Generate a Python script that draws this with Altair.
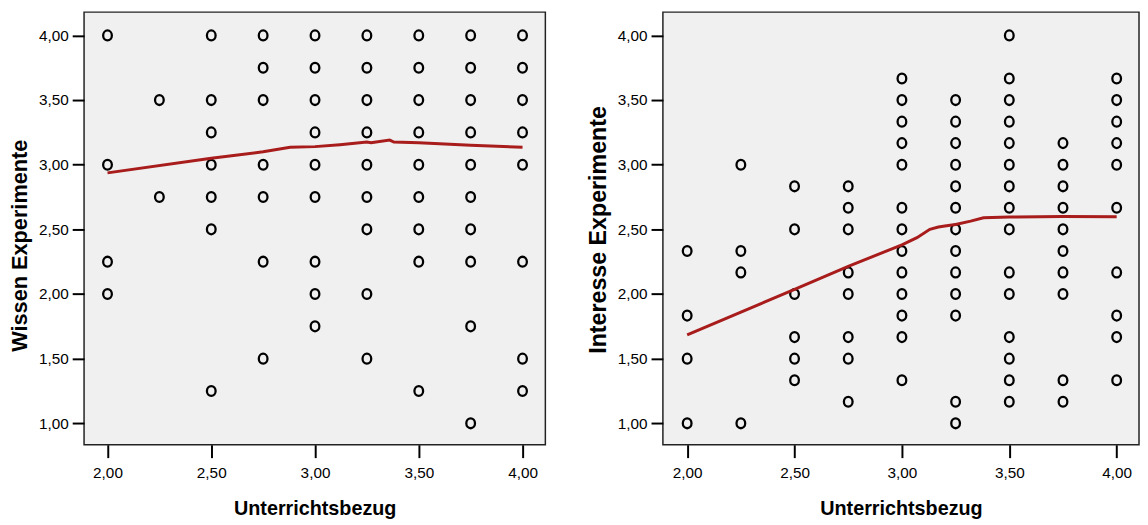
import altair as alt
import pandas as pd

# ---- Left panel: Wissen Experimente vs Unterrichtsbezug ----
wissen_x = (
    [2.00] * 4 + [2.25] * 2 + [2.50] * 7 + [2.75] * 7 + [3.00] * 9
    + [3.25] * 9 + [3.50] * 9 + [3.75] * 10 + [4.00] * 8
)
wissen_y = [
    4.00, 3.00, 2.25, 2.00,
    3.50, 2.75,
    4.00, 3.50, 3.25, 3.00, 2.75, 2.50, 1.25,
    4.00, 3.75, 3.50, 3.00, 2.75, 2.25, 1.50,
    4.00, 3.75, 3.50, 3.25, 3.00, 2.75, 2.25, 2.00, 1.75,
    4.00, 3.75, 3.50, 3.25, 3.00, 2.75, 2.50, 2.00, 1.50,
    4.00, 3.75, 3.50, 3.25, 3.00, 2.75, 2.50, 2.25, 1.25,
    4.00, 3.75, 3.50, 3.25, 3.00, 2.75, 2.50, 2.25, 1.75, 1.00,
    4.00, 3.75, 3.50, 3.25, 3.00, 2.25, 1.50, 1.25,
]
wissen_fit_x = [2.00, 2.50, 2.75, 2.88, 3.00, 3.12, 3.25, 3.27, 3.36, 3.38, 3.50, 3.75, 4.00]
wissen_fit_y = [2.937, 3.05, 3.10, 3.135, 3.14, 3.155, 3.175, 3.17, 3.19, 3.175, 3.17, 3.15, 3.135]

# ---- Right panel: Interesse Experimente vs Unterrichtsbezug ----
interesse_x = (
    [2.00] * 4 + [2.25] * 4 + [2.50] * 6 + [2.75] * 8 + [3.00] * 13
    + [3.25] * 13 + [3.50] * 15 + [3.75] * 10 + [4.00] * 10
)
interesse_y = [
    2.333, 1.833, 1.500, 1.000,
    3.000, 2.333, 2.167, 1.000,
    2.833, 2.500, 2.000, 1.667, 1.500, 1.333,
    2.833, 2.667, 2.500, 2.167, 2.000, 1.667, 1.500, 1.167,
    3.667, 3.500, 3.333, 3.167, 3.000, 2.667, 2.500, 2.333, 2.167, 2.000, 1.833, 1.667, 1.333,
    3.500, 3.333, 3.167, 3.000, 2.833, 2.667, 2.500, 2.333, 2.167, 2.000, 1.833, 1.167, 1.000,
    4.000, 3.667, 3.500, 3.333, 3.167, 3.000, 2.833, 2.667, 2.500, 2.167, 2.000, 1.667, 1.500, 1.333, 1.167,
    3.167, 3.000, 2.833, 2.667, 2.500, 2.333, 2.167, 2.000, 1.333, 1.167,
    3.667, 3.500, 3.333, 3.167, 3.000, 2.667, 2.167, 1.833, 1.667, 1.333,
]
interesse_fit_x = [2.00, 2.50, 2.75, 3.00, 3.07, 3.13, 3.17, 3.20, 3.25, 3.32, 3.38, 3.50, 3.75, 4.00]
interesse_fit_y = [1.684, 2.036, 2.214, 2.38, 2.436, 2.50, 2.518, 2.526, 2.538, 2.564, 2.59, 2.595, 2.60, 2.597]

x_ticks = [2.0, 2.5, 3.0, 3.5, 4.0]
y_ticks = [1.0, 1.5, 2.0, 2.5, 3.0, 3.5, 4.0]
x_title = "Unterrichtsbezug"

LABEL_EXPR = "replace(format(datum.value, '.2f'), '.', ',')"
LABEL_FONT = "Liberation Sans"
TITLE_FONT = "Liberation Sans"
ELLIPSE = "M -0.88 0 A 0.88 1 0 1 0 0.88 0 A 0.88 1 0 1 0 -0.88 0 Z"


def panel(xs, ys, fx, fy, y_title, width, x_domain, title_y, title_size, title_pad):
    pts = pd.DataFrame({"x": xs, "y": ys})
    fit = pd.DataFrame({"x": fx, "y": fy})
    xscale = alt.Scale(domain=x_domain, nice=False, zero=False)
    yscale = alt.Scale(domain=[0.834, 4.18], nice=False, zero=False)
    xaxis = alt.Axis(
        values=x_ticks, labelExpr=LABEL_EXPR, title=x_title, grid=False, domain=False,
        tickSize=13, tickWidth=2, tickColor="#000", labelPadding=8,
        labelFont=LABEL_FONT, labelFontSize=15.5, labelColor="#000",
        titleFont=TITLE_FONT, titleFontSize=20, titleFontWeight="bold", titleColor="#000",
        titlePadding=18,
    )
    yaxis = alt.Axis(
        values=y_ticks, labelExpr=LABEL_EXPR, title=y_title, grid=False, domain=False,
        tickSize=12, tickWidth=2, tickColor="#000", labelPadding=4,
        labelFont=LABEL_FONT, labelFontSize=15.5, labelColor="#000",
        titleFont=TITLE_FONT, titleFontSize=title_size, titleFontWeight="bold", titleColor="#000",
        titlePadding=title_pad, titleY=title_y,
    )
    points = alt.Chart(pts).mark_point(
        shape=ELLIPSE, size=100, filled=False, stroke="#000", strokeWidth=2.3, opacity=1
    ).encode(
        x=alt.X("x:Q", scale=xscale, axis=xaxis),
        y=alt.Y("y:Q", scale=yscale, axis=yaxis),
    )
    line = alt.Chart(fit).mark_line(color="#a81c1c", strokeWidth=3).encode(
        x=alt.X("x:Q", scale=xscale),
        y=alt.Y("y:Q", scale=yscale),
    )
    return alt.layer(points, line).properties(width=width, height=438)


left = panel(wissen_x, wissen_y, wissen_fit_x, wissen_fit_y, "Wissen Experimente",
             467, [1.887, 4.11], 236, 22, 7)
right = panel(interesse_x, interesse_y, interesse_fit_x, interesse_fit_y, "Interesse Experimente",
              482, [1.887, 4.104], 220, 23.5, 7)

chart = alt.hconcat(left, right, spacing=40).properties(
    padding={"left": 0, "top": 0, "right": 0, "bottom": 0},
    background="#ffffff",
).configure_view(
    fill="#f0f0f0", stroke="#222222", strokeWidth=1.5
)

chart.save("out.html", embed_options={"renderer": "svg", "actions": False})
